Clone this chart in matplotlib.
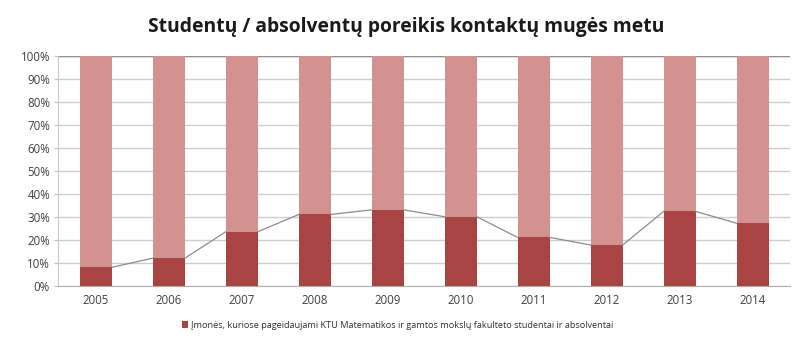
import matplotlib
matplotlib.use("Agg")
import matplotlib.pyplot as plt
import numpy as np

years = ["2005", "2006", "2007", "2008", "2009", "2010", "2011", "2012", "2013", "2014"]
share = [8.0, 12.0, 23.5, 31.0, 33.0, 30.0, 21.0, 17.7, 32.3, 27.2]
rest = [100 - v for v in share]
yticks = [0, 10, 20, 30, 40, 50, 60, 70, 80, 90, 100]
title = "Studentų / absolventų poreikis kontaktų mugės metu"
legend_label = "Įmonės, kuriose pageidaujami KTU Matematikos ir gamtos mokslų fakulteto studentai ir absolventai"

dark = "#A84543"
light = "#D39190"
font = "Open Sans"

fig = plt.figure(figsize=(8, 3.63), dpi=100)
ax = fig.add_axes([0.073, 0.213, 0.914, 0.633])

x = np.arange(len(years))
w = 0.44
ax.bar(x, share, width=w, color=dark, zorder=3, label=legend_label)
ax.bar(x, rest, width=w, bottom=share, color=light, zorder=3)

# series lines connecting bar tops
for i in range(len(x) - 1):
    ax.plot([x[i] + w / 2, x[i + 1] - w / 2], [share[i], share[i + 1]],
            color="#8c8c8c", lw=0.9, zorder=4)

ax.set_xlim(-0.515, len(years) - 0.493)
ax.set_ylim(0, 100)
ax.set_yticks(yticks)
ax.set_yticklabels([f"{t}%" for t in yticks], fontfamily=font, fontsize=8.3, color="#404040")
ax.set_xticks(x)
ax.set_xticklabels(years, fontfamily=font, fontsize=8.3, color="#404040")
ax.yaxis.grid(True, color="#cdcdcd", lw=1.0, zorder=0)
ax.tick_params(axis="x", length=0, pad=6)
ax.tick_params(axis="y", length=3, color="#c0c0c0", pad=3)
for s in ["right", "top"]:
    ax.spines[s].set_visible(False)
ax.spines["left"].set_color("#c8c8c8")
ax.spines["bottom"].set_color("#b0b0b0")
ax.axhline(100, color="#909090", lw=1.0, zorder=2)

fig.text(0.508, 0.925, title, ha="center", va="center", fontfamily=font,
         fontsize=13.9, fontweight="bold", color="#1a1a1a")

leg = fig.legend(loc="center", bbox_to_anchor=(0.497, 0.103), frameon=False,
                 prop={"family": font, "size": 6.6}, handlelength=0.7, handleheight=0.8,
                 handletextpad=0.3)
for t in leg.get_texts():
    t.set_color("#303030")

fig.savefig("out.png", dpi=100, facecolor="white")
